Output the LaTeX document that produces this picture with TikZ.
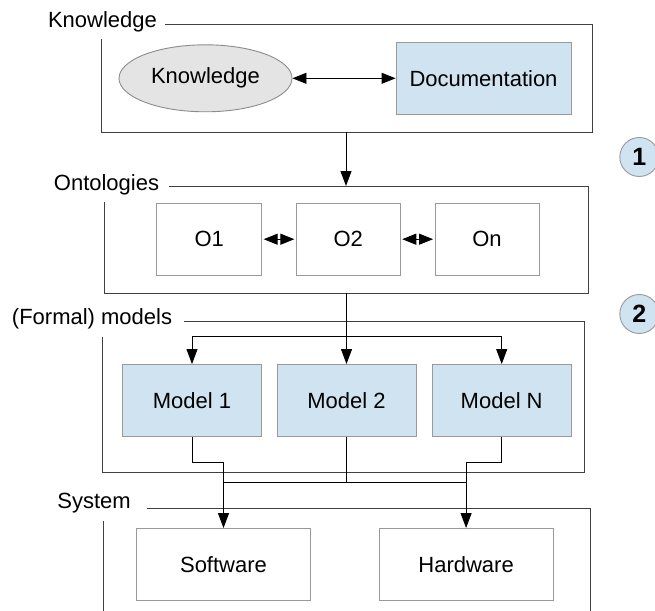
\documentclass[tikz,border=0pt]{standalone}
\usepackage{fontspec}
\setmainfont{Liberation Sans}
\usetikzlibrary{arrows.meta,shapes.geometric}
\definecolor{lightblue}{HTML}{CFE3F1}
\definecolor{lightgray}{HTML}{E4E4E4}
\begin{document}
\begin{tikzpicture}[x=1pt,y=-1pt,
    font=\fontsize{22}{26}\selectfont,
    frame/.style={draw=black!75,line width=0.95pt},
    box/.style={draw=black!40,line width=0.9pt,inner sep=0pt,minimum width=#1,minimum height=72},
    box/.default=104,
    bluebox/.style={box=#1,fill=lightblue},
    bluebox/.default=139,
    badge/.style={circle,draw=black!40,fill=lightblue,line width=0.9pt,minimum size=39,inner sep=0pt,font=\fontsize{25}{28}\selectfont\bfseries},
    link/.style={line width=0.9pt},
    arr/.style={link,-{Triangle[length=15pt,width=11pt]}},
    dblarr/.style={link,{Triangle[length=14pt,width=11pt]}-{Triangle[length=14pt,width=11pt]}}]
  \useasboundingbox (0,0) rectangle (655,610);
  \node (lknow) at (102.5,22) {Knowledge};
  \node (lonto) at (106.5,185) {Ontologies};
  \node (lmod) at (92,319) {(Formal) models};
  \node (lsys) at (94,503) {System};
  \draw[frame] (165,24.3) -- (592,24.3) -- (592,132) -- (101.5,132) -- (101.5,39.3);
  \draw[frame] (168.5,186) -- (588.5,186) -- (588.5,293.3) -- (104.7,293.3) -- (104.7,201.7);
  \draw[frame] (184,321.7) -- (584.5,321.7) -- (584.5,472) -- (102,472) -- (102,336.7);
  \draw[frame] (147,508.3) -- (590.3,508.3) -- (590.3,620);
  \draw[frame] (103.6,521) -- (103.6,620);
  \node[ellipse,draw=black!45,fill=lightgray,line width=0.9pt,inner sep=0pt,minimum width=173,minimum height=67] (kn) at (205.5,78.3) {Knowledge};
  \node[bluebox=175] (doc) at (483.5,78.3) {Documentation};
  \node[box=105] (o1) at (209.2,239.2) {O1};
  \node[box] (o2) at (348.3,239.2) {O2};
  \node[box] (on) at (487,239.2) {On};
  \node[bluebox] (m1) at (192,400.5) {Model 1};
  \node[bluebox] (m2) at (346.5,400.5) {Model 2};
  \node[bluebox] (mn) at (501.7,400.5) {Model N};
  \node[box=174] (sw) at (223.5,564.5) {Software};
  \node[box=174] (hw) at (466.1,564.5) {Hardware};
  \node[badge] (b1) at (639.3,157) {1};
  \node[badge] (b2) at (639.3,314) {2};
  \coordinate (kbot) at (346,132);
  \coordinate (otop) at (346,186);
  \coordinate (obot) at (346.5,293.3);
  \coordinate (split) at (346.5,336);
  \coordinate (join) at (346.5,482.3);
  \begin{scope}
    \draw[dblarr] (kn) -- (doc);
    \draw[arr] (kbot) -- (otop);
    \draw[dblarr,shorten <=1.5pt,shorten >=1.5pt] (o1) -- (o2);
    \draw[dblarr,shorten <=1.5pt,shorten >=1.5pt] (o2) -- (on);
    \draw[arr] (obot) -- (m2.north);
    \draw[link] (m1.north |- split) -- (mn.north |- split);
    \draw[arr] (m1.north |- split) -- (m1.north);
    \draw[arr] (mn.north |- split) -- (mn.north);
    \draw[arr] (m1.south) -- ++(0,25.7) -| (sw.north);
    \draw[arr] (mn.south) -- ++(0,25) -| (hw.north);
    \draw[link] (m2.south) -- (join);
    \draw[link] (sw.north |- join) -- (hw.north |- join);
  \end{scope}
\end{tikzpicture}
\end{document}
